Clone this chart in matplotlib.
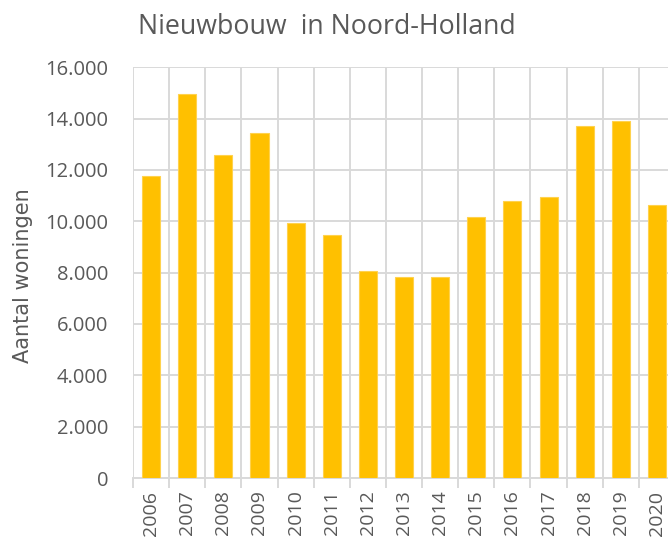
import numpy as np
import matplotlib
matplotlib.use("Agg")
from matplotlib import pyplot as plt
from matplotlib.ticker import FuncFormatter

years = ['2006', '2007', '2008', '2009', '2010', '2011', '2012', '2013',
         '2014', '2015', '2016', '2017', '2018', '2019', '2020']
woningen = [11750, 14950, 12600, 13450, 9950, 9480, 8060, 7830,
            7830, 10180, 10800, 10960, 13700, 13920, 10650]

plt.rcParams['font.family'] = ['Open Sans', 'DejaVu Sans']
grey = '#595959'
grid = '#D9D9D9'

fig = plt.figure(figsize=(6.68, 5.40), dpi=100)
ax = fig.add_axes([133 / 668, 62 / 540, 542 / 668, 410.7 / 540])

x = np.arange(len(years))
ax.bar(x, woningen, width=0.5, color='#FFC000', edgecolor='#FFD24D',
       linewidth=0.8, zorder=3)

ax.set_xlim(-0.5, len(years) - 0.5)
ax.set_ylim(0, 16000)
ax.set_yticks(np.arange(0, 16001, 2000))
ax.yaxis.set_major_formatter(FuncFormatter(lambda v, p: f"{v:,.0f}".replace(",", ".")))

ax.set_xticks(x)
ax.set_xticklabels(years, rotation=90)
ax.set_xticks(np.arange(-0.5, len(years), 1), minor=True)

ax.grid(axis='y', which='major', color=grid, linewidth=1.4, zorder=0)
ax.grid(axis='x', which='minor', color=grid, linewidth=1.4, zorder=0)

ax.tick_params(axis='x', which='major', length=0, pad=9, labelsize=14, labelcolor=grey)
ax.tick_params(axis='x', which='minor', length=7, color=grid, width=1.4)
ax.tick_params(axis='y', length=0, pad=18, labelsize=14.5, labelcolor=grey)

for s in ['top', 'right', 'left']:
    ax.spines[s].set_visible(False)
ax.spines['bottom'].set_color(grid)
ax.spines['bottom'].set_linewidth(1.4)

# y label a bit wider, like the spaced-out Excel text
fig.text(23 / 668, 1 - 276 / 540, 'Aantal woningen', fontsize=15, color=grey,
         family='DejaVu Sans', rotation=90, ha='center', va='center')
fig.text(327 / 668, 1 - 27 / 540, 'Nieuwbouw  in Noord-Holland', fontsize=19.3,
         color=grey, ha='center', va='center')

fig.savefig('out.png', dpi=100)
